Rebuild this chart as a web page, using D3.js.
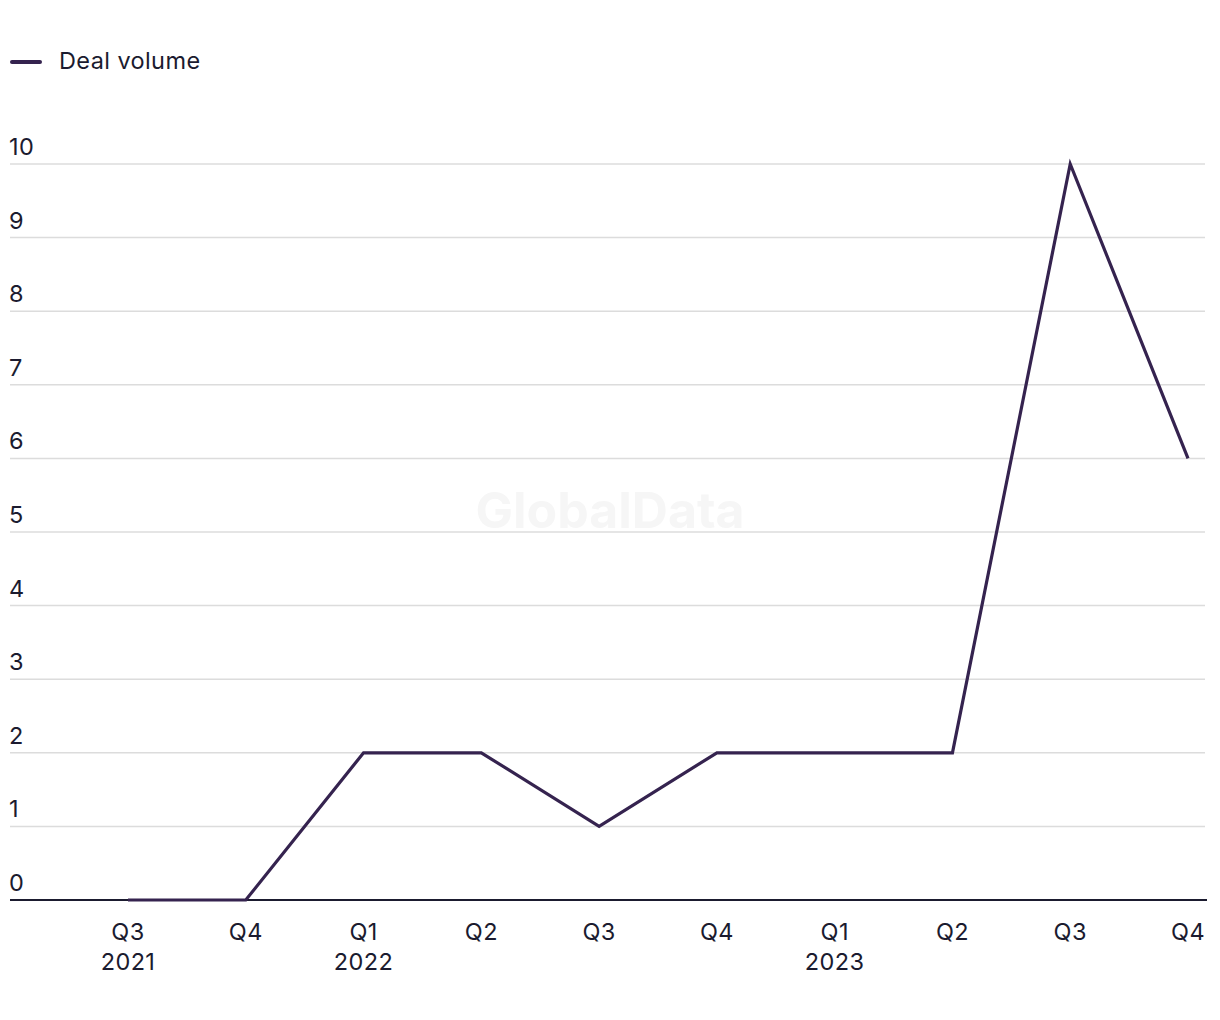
<!DOCTYPE html>
<html>
<head>
<meta charset="utf-8">
<script src="https://cdn.jsdelivr.net/npm/d3@7"></script>
<style>
  body { margin: 0; background: #fff; }
  svg { display: block; font-family: "Inter", "Liberation Sans", sans-serif; }
</style>
</head>
<body>
<svg id="chart" width="1220" height="1020"></svg>
<script>
const quarters = ["Q3", "Q4", "Q1", "Q2", "Q3", "Q4", "Q1", "Q2", "Q3", "Q4"];
const years = ["2021", "", "2022", "", "", "", "2023", "", "", ""];
const dealVolume = [0, 0, 2, 2, 1, 2, 2, 2, 10, 6];
const yTicks = [0, 1, 2, 3, 4, 5, 6, 7, 8, 9, 10];
const seriesName = "Deal volume";

const svg = d3.select("#chart");
const lineColor = "#35234f";
const textColor = "#1b1b2f";
const fs = 23.5, ls = 0.4;

const idx = d3.range(dealVolume.length);
const x = d3.scalePoint().domain(idx).range([128, 1188]).padding(0);
const y = d3.scaleLinear().domain([0, 10]).range([900, 164]);

// watermark
svg.append("text")
  .attr("x", 610).attr("y", 528)
  .attr("text-anchor", "middle")
  .attr("font-size", 50).attr("font-weight", 700)
  .attr("fill", "#f6f6f6")
  .text("GlobalData");

// gridlines
svg.append("g").selectAll("line").data(yTicks.filter(d => d > 0)).join("line")
  .attr("x1", 10).attr("x2", 1205)
  .attr("y1", d => y(d)).attr("y2", d => y(d))
  .attr("stroke", "#dcdcdc").attr("stroke-width", 1.5);

// y labels
svg.append("g").selectAll("text").data(yTicks).join("text")
  .attr("x", 9).attr("y", d => y(d) - 9)
  .attr("font-size", fs).attr("letter-spacing", ls).attr("fill", textColor)
  .text(d => d);

// baseline
svg.append("line")
  .attr("x1", 10).attr("x2", 1207)
  .attr("y1", y(0)).attr("y2", y(0))
  .attr("stroke", textColor).attr("stroke-width", 2);

// x axis labels
const xl = svg.append("g").selectAll("g").data(idx).join("g")
  .attr("transform", d => `translate(${x(d)},0)`);
xl.append("text").attr("y", 940).attr("text-anchor", "middle")
  .attr("font-size", fs).attr("letter-spacing", ls).attr("fill", textColor)
  .text(d => quarters[d]);
xl.append("text").attr("y", 970).attr("text-anchor", "middle")
  .attr("font-size", fs).attr("letter-spacing", ls).attr("fill", textColor)
  .text(d => years[d]);

// line
const line = d3.line().x(d => x(d)).y(d => y(dealVolume[d]));
svg.append("path").datum(idx)
  .attr("d", line)
  .attr("fill", "none")
  .attr("stroke", lineColor)
  .attr("stroke-width", 3.2)
  .attr("stroke-linejoin", "miter");

// legend
svg.append("line").attr("x1", 12).attr("x2", 40).attr("y1", 62).attr("y2", 62)
  .attr("stroke", lineColor).attr("stroke-width", 4).attr("stroke-linecap", "round");
svg.append("text").attr("x", 59).attr("y", 69)
  .attr("font-size", fs).attr("letter-spacing", ls).attr("fill", textColor)
  .text(seriesName);
</script>
</body>
</html>
